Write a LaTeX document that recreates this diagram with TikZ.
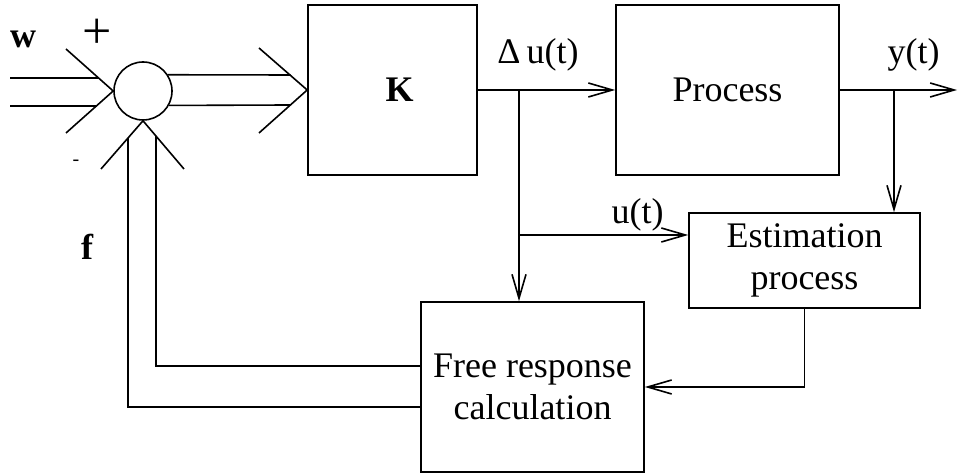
\documentclass[tikz,border=0pt]{standalone}
\usepackage{fontspec}
\setmainfont{Liberation Serif}
\usetikzlibrary{arrows.meta}

\begin{document}
\begin{tikzpicture}[x=0.5pt, y=-0.5pt, line width=0.8pt,
    >={Straight Barb[length=12pt,width=7pt]},
    block/.style={draw, inner sep=0pt, align=center,
        font=\fontsize{18}{21}\selectfont},
    lbl/.style={inner sep=0pt, font=\fontsize{18}{21}\selectfont}]
    \useasboundingbox (0,0) rectangle (958,474);

    % Summing junction
    \node[draw, circle, minimum size=29pt, inner sep=0pt] (sum) at (143,91) {};

    % Controller K and the process
    \node[block, minimum width=84.5pt, minimum height=85pt] (K) at (392.5,90) {\hspace*{7pt}\textbf{K}};
    \node[block, minimum width=111.5pt, minimum height=85pt] (proc) at (727.5,90) {Process};

    % Estimation block, fed by u(t) and y(t)
    \node[block, minimum width=115.5pt, minimum height=47.5pt] (est) at (804.5,260.5) {Estimation\\process};

    % Free response block
    \node[block, minimum width=111.5pt, minimum height=85pt] (free) at (532.5,387) {Free response\\calculation};

    % Double-line input arrow w into the junction
    \draw (10,78) -- (99,78);
    \draw (10,106) -- (97,106);
    \draw (66,49) -- (sum.west) -- (66,133);

    % Double-line arrow from the junction into K
    \draw (sum.33) -- (290.5,75);
    \draw (sum.-29) -- (290.5,105);
    \draw (259,48) -- (K.west) -- (259,133);

    % Double-line feedback f from the free response
    \draw ([yshift=10.5pt]free.west) -- (156,366) -- (156,136);
    \draw ([yshift=-10pt]free.west) -- (128,407) -- (128,138);
    \draw (101,169) -- (sum.south) -- (184,169);

    % Delta u(t) to the process, branched down
    \coordinate (du) at (519,90);
    \coordinate (ub) at (519,235);
    \draw[->] (K.east) -- (proc.west);
    \draw[->] (du) -- (du |- free.north);
    \draw[->] (ub) -- (ub -| est.west);

    % y(t) out, branched to the estimation
    \coordinate (yb) at (894,90);
    \coordinate (yout) at (957,90);
    \draw[->] (proc.east) -- (yout);
    \draw[->] (yb) -- (yb |- est.north);

    % Estimation back to the free response
    \draw[->] (est.south) -- (est.south |- free.east) -- (free.east);

    % Labels
    \node[lbl, font=\fontsize{18}{21}\selectfont\bfseries] (wlbl) at (23,39) {w};
    \node[lbl, font=\fontsize{26}{30}\selectfont] (plus) at (97,34) {+};
    \node[lbl, font=\fontsize{10}{12}\selectfont] (minus) at (76,163) {-};
    \node[lbl, font=\fontsize{18}{21}\selectfont\bfseries] (flbl) at (87,247) {f};
    \node[lbl] (dulbl) at (538,55) {Δ\,u(t)};
    \node[lbl] (ylbl) at (913.5,55) {y(t)};
    \node[lbl] (ulbl) at (637.5,215) {u(t)};
\end{tikzpicture}
\end{document}
